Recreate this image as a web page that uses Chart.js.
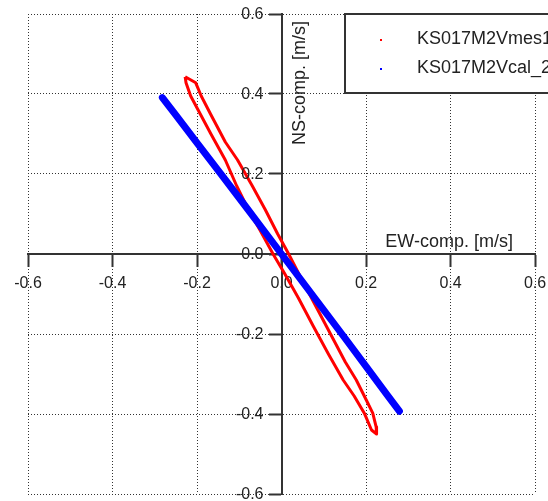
<!DOCTYPE html>
<html lang="en">
<head>
<meta charset="UTF-8">
<title>KS017M2 particle motion</title>
<script src="https://cdn.jsdelivr.net/npm/chart.js"></script>
<style>
  html, body { margin: 0; padding: 0; background: #fff; }
  #wrap { width: 548px; height: 501px; }
</style>
</head>
<body>
<div id="wrap"><canvas id="orbitChart" width="548" height="501"></canvas></div>
<script>
    var axisTicks = [-0.6, -0.4, -0.2, 0.0, 0.2, 0.4, 0.6];
    var seriesNames = ['KS017M2Vmes1', 'KS017M2Vcal_2'];
    var seriesColors = ['#ff0000', '#0000ff'];

    // measured orbit (red loop), EW and NS components
    var mesEW = [-0.228, -0.203, -0.190, -0.168, -0.133, -0.104, -0.069, -0.038, -0.009, 0.017, 0.046, 0.081,
                 0.116, 0.151, 0.177, 0.203, 0.216, 0.224, 0.225,
                 0.213, 0.196, 0.172, 0.146, 0.111, 0.075, 0.040, 0.008, -0.020, -0.051, -0.078, -0.106,
                 -0.133, -0.167, -0.215, -0.226, -0.228];
    var mesNS = [0.443, 0.428, 0.395, 0.350, 0.280, 0.235, 0.170, 0.110, 0.050, 0.000, -0.060, -0.130,
                 -0.200, -0.270, -0.315, -0.370, -0.398, -0.432, -0.450,
                 -0.440, -0.398, -0.355, -0.315, -0.250, -0.180, -0.110, -0.050, 0.000, 0.060, 0.110, 0.170,
                 0.235, 0.300, 0.395, 0.428, 0.443];

    // calculated orbit (blue band)
    var calEW = [-0.282, -0.250, -0.200, -0.150, -0.100, -0.050, 0.000, 0.050, 0.100, 0.150, 0.200, 0.250, 0.279];
    var calNS = [0.391, 0.347, 0.278, 0.209, 0.140, 0.070, 0.000, -0.070, -0.140, -0.210, -0.281, -0.352, -0.393];

    var fontFamily = '"Liberation Sans", Arial, sans-serif';

    function toPoints(xs, ys) {
        return xs.map(function (x, i) { return {x: x, y: ys[i]}; });
    }

    var overlayText = {
        id: 'overlayText',
        afterDraw: function (chart) {
            var ctx = chart.ctx;
            var sx = chart.scales.x, sy = chart.scales.y;
            var x0 = sx.getPixelForValue(0), y0 = sy.getPixelForValue(0);
            ctx.save();
            ctx.fillStyle = '#222';

            // y tick labels, left of the centre axis
            ctx.font = '16px ' + fontFamily;
            ctx.textAlign = 'right';
            ctx.textBaseline = 'middle';
            axisTicks.forEach(function (v) {
                ctx.fillText(v.toFixed(1), x0 - 18, sy.getPixelForValue(v) + 1);
            });

            // axis titles
            ctx.font = '18px ' + fontFamily;
            ctx.textAlign = 'right';
            ctx.textBaseline = 'alphabetic';
            ctx.fillText('EW-comp. [m/s]', sx.getPixelForValue(0.6) - 22, y0 - 7);
            ctx.save();
            ctx.translate(x0 + 23, 83);
            ctx.rotate(-Math.PI / 2);
            ctx.textAlign = 'center';
            ctx.fillText('NS-comp. [m/s]', 0, 0);
            ctx.restore();

            // boxed legend, runs off the right edge
            var left = sx.getPixelForValue(0.6) - 190;
            var top = chart.chartArea.top;
            ctx.fillStyle = '#fff';
            ctx.fillRect(left, top, 220, 79);
            ctx.strokeStyle = '#333';
            ctx.lineWidth = 2;
            ctx.strokeRect(left, top, 220, 79);
            ctx.font = '18px ' + fontFamily;
            ctx.textAlign = 'left';
            ctx.textBaseline = 'middle';
            seriesNames.forEach(function (name, i) {
                var ly = top + 25 + i * 29;
                ctx.fillStyle = seriesColors[i];
                ctx.fillRect(left + 35, ly, 2, 2);
                ctx.fillStyle = '#222';
                ctx.fillText(name, left + 72, ly);
            });
            ctx.restore();
        }
    };

    var ctx = document.getElementById('orbitChart').getContext('2d');
    var orbitChart = new Chart(ctx, {
        type: 'scatter',
        data: {
            datasets: [{
                label: seriesNames[0],
                data: toPoints(mesEW, mesNS),
                showLine: true,
                borderColor: seriesColors[0],
                backgroundColor: seriesColors[0],
                borderWidth: 3,
                pointRadius: 0,
                borderJoinStyle: 'round',
                order: 1
            }, {
                label: seriesNames[1],
                data: toPoints(calEW, calNS),
                showLine: true,
                borderColor: seriesColors[1],
                backgroundColor: seriesColors[1],
                borderWidth: 7,
                pointRadius: 0,
                borderCapStyle: 'round',
                order: 0
            }]
        },
        options: {
            responsive: false,
            animation: false,
            layout: { padding: { left: 28, right: 13, top: 14, bottom: 7 } },
            plugins: { legend: { display: false }, tooltip: { enabled: false } },
            scales: {
                x: {
                    type: 'linear',
                    min: -0.6,
                    max: 0.6,
                    position: { y: 0 },
                    afterBuildTicks: function (axis) {
                        axis.ticks = axisTicks.map(function (v) { return {value: v}; });
                    },
                    // labels may hang past the plot edges, keep the plot box fixed
                    afterFit: function (axis) {
                        axis.paddingLeft = 0;
                        axis.paddingRight = 0;
                    },
                    ticks: {
                        color: '#222',
                        padding: 8,
                        font: { family: fontFamily, size: 16 },
                        callback: function (v) { return v.toFixed(1); }
                    },
                    grid: { color: '#333', lineWidth: 1, tickLength: 12, tickColor: '#333', tickWidth: 2 },
                    border: { color: '#333', width: 2, dash: [1, 2] }
                },
                y: {
                    type: 'linear',
                    min: -0.6,
                    max: 0.6,
                    position: { x: 0 },
                    afterBuildTicks: function (axis) {
                        axis.ticks = axisTicks.map(function (v) { return {value: v}; });
                    },
                    ticks: { display: false },
                    grid: { color: '#333', lineWidth: 1, tickLength: 12, tickColor: '#333', tickWidth: 2 },
                    border: { color: '#333', width: 2, dash: [1, 2] }
                }
            }
        },
        plugins: [overlayText]
    });
</script>
</body>
</html>
